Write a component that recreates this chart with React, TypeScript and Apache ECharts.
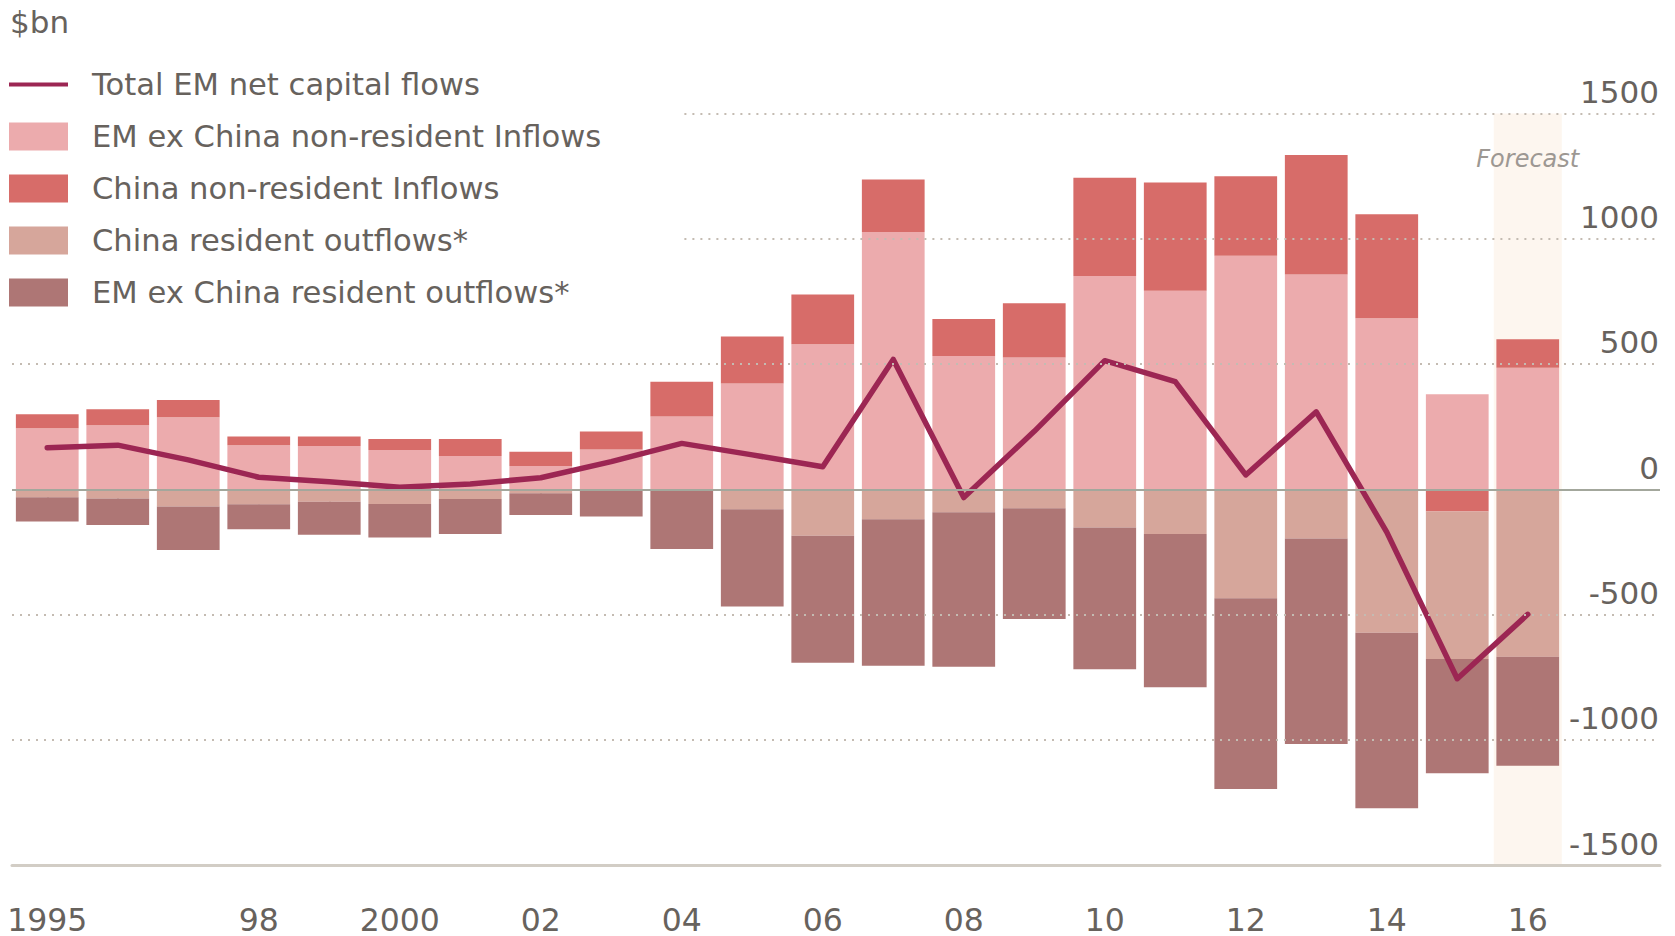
import React, { useEffect, useRef } from 'react';
import * as echarts from 'echarts';

const years = ['1995', '1996', '1997', '1998', '1999', '2000', '2001', '2002', '2003', '2004', '2005', '2006', '2007', '2008', '2009', '2010', '2011', '2012', '2013', '2014', '2015', '2016'];
const xTickLabels = ['1995', '', '', '98', '', '2000', '', '02', '', '04', '', '06', '', '08', '', '10', '', '12', '', '14', '', '16'];

const emExChinaInflows = [244, 256, 288, 177, 174, 158, 134, 94, 160, 291, 423, 579, 1027, 533, 527, 852, 793, 933, 858, 683, 380, 486];
const chinaInflows = [56, 64, 69, 34, 37, 43, 67, 57, 71, 139, 187, 199, 210, 147, 216, 392, 432, 317, 476, 415, -88, 113];
const chinaOutflows = [-31, -36, -68, -59, -49, -58, -38, -15, -5, -3, -79, -185, -119, -91, -75, -152, -178, -434, -195, -571, -588, -667];
const emExChinaOutflows = [-97, -106, -173, -100, -132, -133, -140, -87, -103, -234, -388, -506, -584, -616, -442, -565, -611, -761, -820, -701, -456, -435];
const totalNetFlows = [167, 177, 118, 49, 31, 9, 22, 47, 111, 184, 138, 91, 519, -32, 232, 514, 430, 58, 310, -170, -755, -498];

const yMin = -1500;
const yMax = 1500;
const yStep = 500;
const fullGridValues = [500, -500, -1000];
const partialGridValues = [1500, 1000];
const forecastYears = ['2016'];

const NAMES = {
  total: 'Total EM net capital flows',
  emIn: 'EM ex China non-resident Inflows',
  cnIn: 'China non-resident Inflows',
  cnOut: 'China resident outflows*',
  emOut: 'EM ex China resident outflows*',
};

const FONT = '"DejaVu Sans", sans-serif';
const TEXT = '#67625d';

export default function App() {
  const ref = useRef<HTMLDivElement>(null);
  useEffect(() => {
    if (!ref.current) return;
    const chart = echarts.init(ref.current, undefined, { renderer: 'svg' });
    const dotted = { color: '#c4bbb2', width: 2, type: [2, 6] as any };
    const option: any = {
      animation: false,
      title: {
        text: '$bn',
        left: 10,
        top: 6,
        padding: 0,
        textStyle: { fontFamily: FONT, fontSize: 31, fontWeight: 'normal', color: TEXT, lineHeight: 32 },
      },
      legend: {
        orient: 'vertical',
        left: 9,
        top: 69,
        padding: 0,
        itemWidth: 59,
        itemHeight: 28,
        itemGap: 21,
        icon: 'rect',
        data: [
          { name: NAMES.total, icon: 'path://M0,0H62V4H0Z' },
          NAMES.emIn,
          NAMES.cnIn,
          NAMES.cnOut,
          NAMES.emOut,
        ],
        textStyle: { fontFamily: FONT, fontSize: 30.6, color: TEXT, lineHeight: 28, padding: [0, 0, 0, 19] },
      },
      grid: [
        { left: 12, right: 15, top: 113.5, bottom: 70.5 },
        { left: 12, width: 1551, top: 113.5, bottom: 70.5 },
      ],
      xAxis: [
        {
          gridIndex: 0,
          type: 'value',
          min: 0,
          max: 1,
          axisLine: { show: true, onZero: false, lineStyle: { color: '#d2cdc5', width: 3 } },
          axisTick: { show: false },
          axisLabel: { show: false },
          splitLine: { show: false },
        },
        {
          gridIndex: 1,
          type: 'category',
          data: years,
          axisLine: { show: false },
          axisTick: { show: true, alignWithLabel: true, interval: 0, length: 15, lineStyle: { color: '#d6d0c8', width: 2 } },
          axisLabel: {
            interval: 0,
            margin: 38,
            fontFamily: FONT,
            fontSize: 31.5,
            color: TEXT,
            formatter: (_v: string, i: number) => xTickLabels[i],
          },
          splitLine: { show: false },
        },
      ],
      yAxis: [
        {
          gridIndex: 0,
          type: 'value',
          min: yMin,
          max: yMax,
          interval: yStep,
          position: 'right',
          axisLine: { show: false },
          axisTick: { show: false },
          splitLine: { show: false },
          axisLabel: {
            inside: true,
            margin: 1,
            fontFamily: FONT,
            fontSize: 31,
            color: TEXT,
            verticalAlign: 'bottom',
            lineHeight: 44,
            formatter: (v: number) => String(v),
          },
        },
        {
          gridIndex: 1,
          type: 'value',
          min: yMin,
          max: yMax,
          interval: yStep,
          show: false,
        },
      ],
      series: [
        {
          type: 'custom',
          name: 'forecast',
          xAxisIndex: 1,
          yAxisIndex: 1,
          z: 0,
          silent: true,
          data: forecastYears.map((y) => [y]),
          renderItem: (params: any, api: any) => {
            const cat = api.value(0);
            const top = api.coord([cat, yMax]);
            const bot = api.coord([cat, yMin]);
            const bw = api.size([1, 0])[0];
            const w = bw * 0.965;
            return {
              type: 'group',
              children: [
                { type: 'rect', shape: { x: top[0] - w / 2, y: top[1], width: w, height: bot[1] - top[1] }, style: { fill: '#fdf6ef' } },
                {
                  type: 'text',
                  x: top[0],
                  y: top[1] + 45,
                  style: { text: 'Forecast', fill: '#9d9893', fontStyle: 'italic', fontSize: 24, fontFamily: FONT, align: 'center', verticalAlign: 'middle' },
                },
              ],
            };
          },
        },
        {
          type: 'scatter',
          name: 'grid-dotted',
          xAxisIndex: 0,
          yAxisIndex: 0,
          z: 1,
          silent: true,
          symbolSize: 0,
          data: [[0.5, 0]],
          markLine: {
            silent: true,
            symbol: ['none', 'none'],
            label: { show: false },
            lineStyle: dotted,
            data: [
              ...fullGridValues.map((v) => ({ yAxis: v })),
              ...partialGridValues.map((v) => [{ coord: [0.408, v] }, { coord: [1, v] }]),
            ],
          },
        },
        {
          type: 'scatter',
          name: 'grid-zero',
          xAxisIndex: 0,
          yAxisIndex: 0,
          z: 3,
          silent: true,
          symbolSize: 0,
          data: [[0.5, 0]],
          markLine: {
            silent: true,
            symbol: ['none', 'none'],
            label: { show: false },
            lineStyle: { color: '#a3a79c', width: 2, type: 'solid' },
            data: [{ yAxis: 0 }],
          },
        },
        {
          type: 'bar', name: NAMES.emIn, xAxisIndex: 1, yAxisIndex: 1, stack: 'flows', z: 2,
          barCategoryGap: '11%', itemStyle: { color: '#ecabad' }, data: emExChinaInflows,
        },
        {
          type: 'bar', name: NAMES.cnIn, xAxisIndex: 1, yAxisIndex: 1, stack: 'flows', z: 2,
          barCategoryGap: '11%', itemStyle: { color: '#d76c69' }, data: chinaInflows,
        },
        {
          type: 'bar', name: NAMES.cnOut, xAxisIndex: 1, yAxisIndex: 1, stack: 'flows', z: 2,
          barCategoryGap: '11%', itemStyle: { color: '#d6a69b' }, data: chinaOutflows,
        },
        {
          type: 'bar', name: NAMES.emOut, xAxisIndex: 1, yAxisIndex: 1, stack: 'flows', z: 2,
          barCategoryGap: '11%', itemStyle: { color: '#ae7675' }, data: emExChinaOutflows,
        },
        {
          type: 'line', name: NAMES.total, xAxisIndex: 1, yAxisIndex: 1, z: 4,
          symbol: 'none', itemStyle: { color: '#9c2653' },
          lineStyle: { color: '#9c2653', width: 5.5, cap: 'round', join: 'round' },
          data: totalNetFlows,
        },
      ],
    };
    chart.setOption(option);
    return () => chart.dispose();
  }, []);
  return <div ref={ref} style={{ position: 'absolute', left: 0, top: 0, width: 1675, height: 936 }} />;
}
